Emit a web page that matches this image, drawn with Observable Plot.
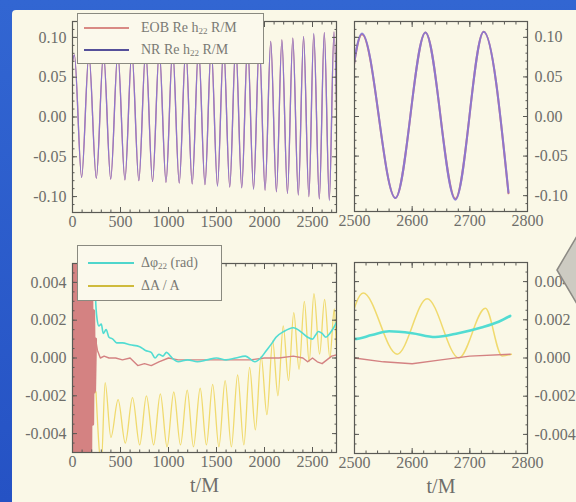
<!DOCTYPE html>
<html>
<head>
<meta charset="utf-8">
<script src="https://cdn.jsdelivr.net/npm/d3@7"></script>
<script src="https://cdn.jsdelivr.net/npm/@observablehq/plot@0.6"></script>
<style>
  html, body { margin: 0; padding: 0; }
  body { width: 576px; height: 502px; overflow: hidden; font-family: "Liberation Serif", "DejaVu Serif", serif; }
  #page { position: relative; width: 576px; height: 502px; background: linear-gradient(#3266d2, #2552c4); }
  #paper { position: absolute; left: 12px; top: 10px; width: 564px; height: 492px; background: #faf8e7; border-top-left-radius: 4px; }
  .panel { position: absolute; }
  .legend { position: absolute; background: #fbf9ec; border: 1px solid #8a8a80; font-family: "Liberation Serif", serif; color: #7a7a74; font-size: 14px; }
  .row { position: absolute; left: 0; height: 16px; white-space: nowrap; }
  .sw { position: absolute; height: 2px; }
  .lt { position: absolute; line-height: 16px; }
  sub { font-size: 9px; vertical-align: -2px; }
  #arrow { position: absolute; left: 550px; top: 230px; }
</style>
</head>
<body>
<div id="page">
  <div id="paper"></div>
  <div id="tl" class="panel" style="left:0;top:0"></div>
  <div id="tr" class="panel" style="left:340px;top:0"></div>
  <div id="bl" class="panel" style="left:0;top:240px"></div>
  <div id="br" class="panel" style="left:340px;top:240px"></div>

  <div class="legend" style="left:77px;top:13px;width:185px;height:49px;">
    <div class="row" style="top:6px;width:185px;">
      <div class="sw" style="left:6px;top:7px;width:45px;background:#d98a84;"></div>
      <div class="lt" style="left:63px;">EOB Re h<sub>22</sub> R/M</div>
    </div>
    <div class="row" style="top:28px;width:185px;">
      <div class="sw" style="left:6px;top:7px;width:45px;background:#55509a;"></div>
      <div class="lt" style="left:63px;">NR Re h<sub>22</sub> R/M</div>
    </div>
  </div>

  <div class="legend" style="left:77px;top:245px;width:143px;height:54px;">
    <div class="row" style="top:9px;width:143px;">
      <div class="sw" style="left:10px;top:7px;width:46px;background:#4fd6cc;"></div>
      <div class="lt" style="left:63px;">Δφ<sub>22</sub> (rad)</div>
    </div>
    <div class="row" style="top:32px;width:143px;">
      <div class="sw" style="left:10px;top:7px;width:46px;background:#cfbb3c;"></div>
      <div class="lt" style="left:63px;">ΔA / A</div>
    </div>
  </div>

  <svg id="arrow" width="26" height="80">
    <polygon points="27,6 7,40 27,74" fill="#cdcbc2" stroke="#8c8a84" stroke-width="1.5" stroke-linejoin="round"></polygon>
  </svg>
</div>

<script>
// ---------- data ----------
// waveform extrema (t/M) and Re h22 R/M values
const hT = [0,20,95,171,248,323,398,472,546,618,691,762,834,904,974,1043,1112,1180,1247,1313,1380,1445,1510,1574,1638,1700,1763,1824,1886,1946,2006,2065,2124,2181,2239,2295,2352,2407,2462,2513,2571,2623,2675,2724,2767];
const hNR = [0.070,0.078,-0.076,0.079,-0.077,0.080,-0.078,0.081,-0.079,0.082,-0.080,0.083,-0.081,0.084,-0.082,0.085,-0.083,0.086,-0.084,0.087,-0.085,0.088,-0.087,0.089,-0.088,0.091,-0.089,0.092,-0.091,0.094,-0.092,0.095,-0.094,0.097,-0.096,0.099,-0.098,0.101,-0.100,0.105,-0.103,0.106,-0.105,0.107,-0.096];
const hEOB = [0.070,0.078,-0.076,0.079,-0.077,0.080,-0.078,0.081,-0.079,0.082,-0.080,0.083,-0.081,0.084,-0.082,0.085,-0.083,0.086,-0.084,0.087,-0.085,0.088,-0.086,0.089,-0.088,0.090,-0.089,0.092,-0.090,0.093,-0.092,0.095,-0.094,0.097,-0.096,0.099,-0.098,0.101,-0.100,0.104,-0.103,0.106,-0.104,0.107,-0.097];

// red difference curve (noisy start)
const rT = [0,10,20,30,40,50,60,70,80,90,100,110,120,130,140,150,160,170,180,190,200,210,220,230,240,260,290,330,380,450,520,600,680,750,820,900,1000,1100,1250,1400,1550,1700,1850,2000,2150,2300,2400,2450,2500,2550,2600,2650,2700,2770];
const rV = [0.0062,-0.0061,0.0062,-0.0060,0.0061,-0.0062,0.0060,-0.0061,0.0062,-0.0060,0.0061,-0.0062,0.0060,-0.0061,0.0062,-0.0060,0.0061,-0.0058,0.0055,-0.0050,0.0042,-0.0035,0.0025,-0.0018,0.0010,0.0004,0.0000,0.0001,0.0000,0.0000,-0.0001,0.0000,-0.0004,-0.0003,-0.0004,-0.0002,0.0000,-0.0001,-0.0001,-0.0001,-0.0001,-0.0001,-0.0001,0.0000,0.0000,0.0001,0.0000,-0.0002,0.0000,-0.0002,-0.0003,-0.0001,0.0001,0.0002];

// phase difference (rad)
const cT = [228,240,255,275,300,320,350,380,420,460,520,600,700,760,820,860,900,940,980,1020,1060,1100,1200,1300,1400,1500,1600,1700,1800,1900,1960,2020,2080,2120,2200,2300,2400,2450,2500,2530,2560,2600,2640,2680,2720,2750,2770];
const cV = [0.0080,0.0032,0.0021,0.0017,0.0018,0.0013,0.0015,0.0011,0.0010,0.0008,0.0008,0.0007,0.0006,0.0004,0.0003,0.0000,0.0002,0.0001,0.0003,0.0001,-0.0001,-0.0002,-0.0001,-0.0002,-0.0001,0.0000,-0.0001,0.0000,0.0001,-0.0002,0.0000,0.0004,0.0008,0.0011,0.0014,0.0016,0.0013,0.0011,0.0010,0.0012,0.0014,0.0013,0.0011,0.0013,0.0016,0.0019,0.0022];

// relative amplitude difference (extrema)
const aT = [245,300,340,400,475,550,625,700,770,845,915,985,1055,1125,1195,1260,1330,1395,1460,1525,1590,1655,1720,1785,1845,1905,1965,2025,2085,2140,2195,2250,2305,2360,2415,2465,2515,2574,2626,2681,2727,2756,2772];
const aV = [-0.0018,-0.0056,-0.0013,-0.0042,-0.0022,-0.0045,-0.0021,-0.0046,-0.0020,-0.0046,-0.0019,-0.0047,-0.0018,-0.0046,-0.0017,-0.0047,-0.0016,-0.0046,-0.0014,-0.0047,-0.0012,-0.0047,-0.0009,-0.0046,-0.0005,-0.0038,0.0001,-0.0030,0.0009,-0.0020,0.0017,-0.0012,0.0024,-0.0006,0.0030,-0.0002,0.0034,0.0002,0.0031,0.0000,0.0026,0.0001,0.0002];

// ticks
const xTicksFull = [0,500,1000,1500,2000,2500];
const xTicksZoom = [2500,2600,2700,2800];
const yTicksTop = [-0.10,-0.05,0,0.05,0.10];
const yTicksBottom = [-0.004,-0.002,0,0.002,0.004];

// ---------- build ----------
const zip = (t, v) => t.map((d, i) => ({t: d, v: v[i]}));
const nr = zip(hT, hNR), eob = zip(hT, hEOB);
const red = zip(rT, rV), cyan = zip(cT, cV), amp = zip(aT, aV);
const redNoise = red.filter(d => d.t <= 240);
const redRest = red.filter(d => d.t >= 230);

const minorTop = d3.range(-0.12, 0.1201, 0.01).map(d => +d.toFixed(3));
const minorBottom = d3.range(-0.005, 0.00501, 0.0005).map(d => +d.toFixed(4));

const style = {background: "transparent", fontFamily: "'Liberation Serif', serif", fontSize: "16px", color: "#6e6e6a", overflow: "visible"};
const frameColor = "#5a5a55";

function axes({xTicks, yTicks, yMinor, xMinor, yFmt, yAnchor, xLabel}) {
  const other = yAnchor === "left" ? "right" : "left";
  const m = [
    Plot.frame({stroke: frameColor, strokeWidth: 1.2}),
    Plot.axisY({anchor: yAnchor, ticks: yTicks, tickFormat: yFmt, tickSize: -5, tickPadding: yAnchor === "left" ? 11 : 12, label: null, stroke: frameColor}),
    Plot.axisY({anchor: yAnchor, ticks: yMinor, tickSize: -2.5, text: null, label: null, stroke: frameColor}),
    Plot.axisY({anchor: other, ticks: yTicks, tickSize: -5, text: null, label: null, stroke: frameColor}),
    Plot.axisY({anchor: other, ticks: yMinor, tickSize: -2.5, text: null, label: null, stroke: frameColor}),
    Plot.axisX({anchor: "bottom", ticks: xTicks, tickFormat: d => String(d), tickSize: -5, tickPadding: 8, label: null, stroke: frameColor}),
    Plot.axisX({anchor: "bottom", ticks: xMinor, tickSize: -2.5, text: null, label: null, stroke: frameColor}),
    Plot.axisX({anchor: "top", ticks: xTicks, tickSize: -5, text: null, label: null, stroke: frameColor}),
    Plot.axisX({anchor: "top", ticks: xMinor, tickSize: -2.5, text: null, label: null, stroke: frameColor})
  ];
  if (xLabel) m.push(Plot.text([xLabel], {frameAnchor: "bottom", dy: 39, fontSize: 20, fill: "#6e6e6a"}));
  return m;
}

const fmtTop = d => d.toFixed(2);
const fmtBot = d => d.toFixed(3);
const xMinorFull = d3.range(0, 2751, 100);
const xMinorZoom = d3.range(2500, 2801, 20);

function waveLines(width) {
  return [
    Plot.line(eob, {x: "t", y: "v", curve: "monotone-x", stroke: "#d77a74", strokeWidth: width, clip: true}),
    Plot.line(nr, {x: "t", y: "v", curve: "monotone-x", stroke: "#8076dc", strokeOpacity: 0.85, strokeWidth: width, clip: true})
  ];
}

function diffLines(wr, wc, wa) {
  return [
    Plot.line(redNoise, {x: "t", y: "v", stroke: "#d48282", strokeWidth: 3, clip: true}),
    Plot.line(amp, {x: "t", y: "v", curve: "monotone-x", stroke: "#f0da6e", strokeWidth: wa, clip: true}),
    Plot.line(redRest, {x: "t", y: "v", stroke: "#d48282", strokeWidth: wr, clip: true}),
    Plot.line(cyan, {x: "t", y: "v", curve: "monotone-x", stroke: "#52dcd2", strokeWidth: wc, clip: true})
  ];
}

const tl = Plot.plot({
  width: 345, height: 240, marginLeft: 72, marginRight: 9, marginTop: 21, marginBottom: 28,
  style, x: {domain: [0, 2750]}, y: {domain: [-0.12, 0.12]},
  marks: [...waveLines(1.3), ...axes({xTicks: xTicksFull, yTicks: yTicksTop, yMinor: minorTop, xMinor: xMinorFull, yFmt: fmtTop, yAnchor: "left"})]
});
document.getElementById("tl").append(tl);

const tr = Plot.plot({
  width: 236, height: 240, marginLeft: 14, marginRight: 49, marginTop: 21, marginBottom: 29,
  style, x: {domain: [2500, 2800]}, y: {domain: [-0.12, 0.12]},
  marks: [...waveLines(2), ...axes({xTicks: xTicksZoom, yTicks: yTicksTop, yMinor: minorTop, xMinor: xMinorZoom, yFmt: fmtTop, yAnchor: "right"})]
});
document.getElementById("tr").append(tr);

const bl = Plot.plot({
  width: 345, height: 262, marginLeft: 72, marginRight: 9, marginTop: 23, marginBottom: 50,
  style, x: {domain: [0, 2750]}, y: {domain: [-0.005, 0.005]},
  marks: [...diffLines(1.4, 1.6, 1.3), ...axes({xTicks: xTicksFull, yTicks: yTicksBottom, yMinor: minorBottom, xMinor: xMinorFull, yFmt: fmtBot, yAnchor: "left", xLabel: "t/M"})]
});
document.getElementById("bl").append(bl);

const br = Plot.plot({
  width: 236, height: 262, marginLeft: 14, marginRight: 49, marginTop: 22, marginBottom: 49,
  style, x: {domain: [2500, 2800]}, y: {domain: [-0.005, 0.005]},
  marks: [...diffLines(1.4, 2.6, 1.5), ...axes({xTicks: xTicksZoom, yTicks: yTicksBottom, yMinor: minorBottom, xMinor: xMinorZoom, yFmt: fmtBot, yAnchor: "right", xLabel: "t/M"})]
});
document.getElementById("br").append(br);
</script>
</body>
</html>
